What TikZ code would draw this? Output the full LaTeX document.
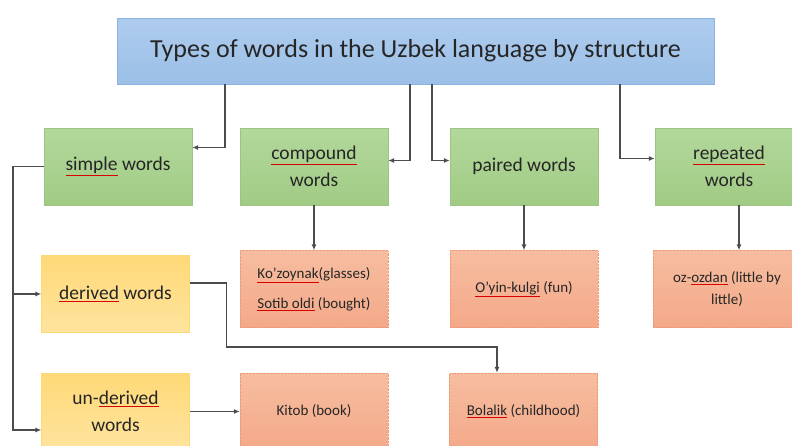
\documentclass[tikz,border=0pt]{standalone}
\usepackage{fontspec}
\setmainfont{Carlito}
\usetikzlibrary{arrows.meta}
\definecolor{titletop}{HTML}{AECCEE}
\definecolor{titlebot}{HTML}{9BBFE6}
\definecolor{titleline}{HTML}{8DB3E2}
\definecolor{greentop}{HTML}{B3D89B}
\definecolor{greenbot}{HTML}{A1CB85}
\definecolor{greenline}{HTML}{9CC584}
\definecolor{yellowtop}{HTML}{FFD978}
\definecolor{yellowbot}{HTML}{FFE49E}
\definecolor{salmontop}{HTML}{F7BDA0}
\definecolor{salmonbot}{HTML}{F3A989}
\definecolor{salmonline}{HTML}{EE9A78}
\newcommand\redul[1]{{\color{red!85!black}\underline{\color{black!85}#1}}}
\tikzset{
  wbox/.style={minimum width=148pt, minimum height=77pt, align=center, inner sep=2pt, text=black!85},
  titlebox/.style={draw=titleline, top color=titletop, bottom color=titlebot, minimum width=597pt, minimum height=66pt, text=black!85, font=\fontsize{26}{30}\selectfont},
  greenbox/.style={wbox, draw=greenline, top color=greentop, bottom color=greenbot, font=\fontsize{19.5}{27}\selectfont},
  yellowbox/.style={wbox, draw=yellowtop, top color=yellowtop, bottom color=yellowbot, font=\fontsize{19.5}{27}\selectfont},
  salmonbox/.style={wbox, draw=salmonline, densely dotted, top color=salmontop, bottom color=salmonbot, font=\fontsize{15}{22}\selectfont},
  arr/.style={draw=black!70, line width=1.1pt, solid, -{Latex[length=6pt,width=5pt]}}
}
\begin{document}
\begin{tikzpicture}[x=1pt, y=-1pt]
  \useasboundingbox (0,0) rectangle (792,445);
  \node[titlebox] (title) at (415.5,51) {Types of words in the Uzbek language by structure};
  \node[greenbox] (simple) at (118,166.5) {\redul{simple} words};
  \node[greenbox] (compound) at (314,166.5) {\redul{compound}\\words};
  \node[greenbox] (paired) at (524,166.5) {paired words};
  \node[greenbox] (repeated) at (729,166.5) {\redul{repeated}\\words};
  \node[yellowbox] (derived) at (115.5,294) {\redul{derived} words};
  \node[yellowbox] (underived) at (115.5,411.5) {un-\redul{derived}\\words};
  \node[salmonbox] (kozoynak) at (314,289) {\redul{Ko’zoynak}(glasses)\\[8pt]\redul{Sotib oldi} (bought)};
  \node[salmonbox] (oyin) at (524,289) {\redul{O’yin-kulgi} (fun)};
  \node[salmonbox] (ozozdan) at (727,289) {oz-\redul{ozdan} (little by\\little)};
  \node[salmonbox] (kitob) at (314,411.5) {Kitob (book)};
  \node[salmonbox] (bolalik) at (523.5,411.5) {\redul{Bolalik} (childhood)};
  \coordinate (t1) at (225,84);
  \coordinate (t2) at (410,84);
  \coordinate (t3) at (432,84);
  \coordinate (t4) at (620,84);
  \coordinate (s1) at (13,166.5);
  \draw[arr] (t1) |- ([yshift=19pt]simple.east);
  \draw[arr] (t2) |- ([yshift=6pt]compound.east);
  \draw[arr] (t3) |- ([yshift=6pt]paired.west);
  \draw[arr] (t4) |- ([yshift=8pt]repeated.west);
  \draw[arr] (compound.south) -- (kozoynak.north);
  \draw[arr] (paired.south) -- (oyin.north);
  \draw[arr] ([xshift=10pt]repeated.south) -- ([xshift=12pt]ozozdan.north);
  \draw[arr] (simple.west) -- (s1) |- ([yshift=-18.5pt]underived.west);
  \draw[arr] (derived.west -| s1) -- (derived.west);
  \draw[arr] ([yshift=11pt]derived.east) -- ++(37,0) -- ++(0,64) -| ([xshift=-26.5pt]bolalik.north);
  \draw[arr] (underived.east) -- (kitob.west);
\end{tikzpicture}
\end{document}
